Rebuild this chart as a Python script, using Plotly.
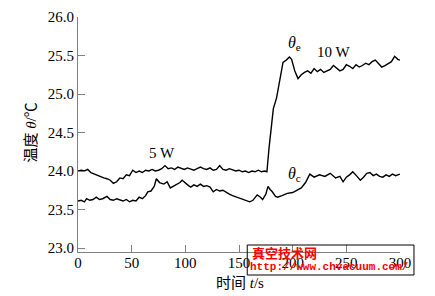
import plotly.graph_objects as go

# θe (upper curve): time (s) and temperature (°C)
te_t = [0, 3, 6, 9, 12, 15, 18, 21, 24, 27, 30, 33, 36, 39, 42, 45, 48, 51, 54, 57,
        60, 63, 66, 69, 72, 75, 78, 81, 84, 87, 90, 93, 96, 99, 102, 105, 108, 111, 114, 117,
        120, 123, 126, 129, 132, 135, 138, 141, 144, 147, 150, 153, 156, 159, 162, 165, 168, 171, 174, 176,
        178, 180, 182, 185, 188, 191, 194, 197, 199, 202, 205, 208, 211, 214, 217, 220, 223, 226, 229, 232,
        235, 238, 241, 244, 247, 250, 253, 256, 259, 262, 265, 268, 271, 274, 277, 280, 283, 286, 289, 292,
        295, 298, 300]
te_v = [24.00, 24.01, 24.00, 24.02, 23.98, 23.96, 23.94, 23.93, 23.91, 23.90, 23.88, 23.84, 23.86, 23.91, 23.90, 23.95, 23.94, 24.01, 23.98, 24.00,
        23.98, 24.01, 24.00, 24.02, 24.00, 24.01, 24.03, 24.07, 24.03, 24.04, 24.02, 24.05, 24.03, 24.02, 24.04, 24.02, 24.01, 24.03, 24.05, 24.03,
        24.02, 24.04, 24.01, 24.02, 24.07, 24.02, 24.01, 24.03, 24.01, 24.00, 24.01, 23.99, 24.00, 23.98, 24.00, 23.99, 24.01, 23.99, 24.00, 23.99,
        24.30, 24.60, 24.81, 24.95, 25.16, 25.41, 25.44, 25.48, 25.45, 25.30, 25.20, 25.25, 25.28, 25.30, 25.27, 25.33, 25.29, 25.32, 25.28, 25.30,
        25.32, 25.37, 25.34, 25.30, 25.32, 25.38, 25.36, 25.33, 25.38, 25.35, 25.37, 25.40, 25.38, 25.42, 25.44, 25.40, 25.35, 25.37, 25.39, 25.42,
        25.49, 25.45, 25.44]

# θc (lower curve)
tc_t = [0, 3, 6, 8, 11, 14, 17, 20, 23, 27, 30, 33, 36, 39, 42, 45, 48, 51, 54, 57,
        60, 63, 65, 68, 71, 73, 76, 80, 83, 86, 89, 92, 95, 97, 100, 103, 105, 108, 111, 114,
        117, 120, 123, 126, 129, 132, 135, 138, 141, 144, 148, 151, 154, 157, 160, 163, 167, 170, 172, 175,
        177, 179, 181, 184, 186, 190, 195, 200, 204, 208, 212, 216, 220, 225, 230, 235, 240, 244, 247, 250,
        253, 256, 260, 263, 266, 269, 272, 275, 278, 281, 284, 287, 290, 293, 296, 300]
tc_v = [23.61, 23.62, 23.60, 23.64, 23.62, 23.63, 23.66, 23.63, 23.64, 23.67, 23.63, 23.62, 23.64, 23.62, 23.61, 23.63, 23.60, 23.62, 23.61, 23.66,
        23.64, 23.68, 23.73, 23.74, 23.80, 23.90, 23.85, 23.83, 23.86, 23.78, 23.80, 23.83, 23.85, 23.88, 23.84, 23.81, 23.79, 23.82, 23.80, 23.83,
        23.80, 23.81, 23.79, 23.73, 23.76, 23.74, 23.75, 23.72, 23.70, 23.68, 23.66, 23.65, 23.63, 23.62, 23.60, 23.62, 23.69, 23.66, 23.63, 23.70,
        23.80, 23.76, 23.73, 23.67, 23.66, 23.68, 23.71, 23.72, 23.75, 23.78, 23.85, 23.96, 23.92, 23.95, 23.93, 23.97, 23.91, 23.93, 23.86, 23.92,
        23.95, 23.99, 23.93, 23.88, 23.92, 23.97, 23.98, 23.94, 23.96, 23.93, 23.92, 23.95, 23.93, 23.96, 23.94, 23.96]

x_ticks = [0, 50, 100, 150, 200, 250, 300]
y_ticks = [23.0, 23.5, 24.0, 24.5, 25.0, 25.5, 26.0]

SERIF = "Times New Roman, Liberation Serif, DejaVu Serif, serif"
CJK = "Times New Roman, Liberation Serif, Noto Sans CJK SC, serif"

# plot area in pixels
L, R, T, B = 77.5, 400.0, 17.0, 252.0
W, H = 435, 296
def px(xp):
    return (xp - L) / (R - L)
def py(yp):
    return (B - yp) / (B - T)

fig = go.Figure()
fig.add_trace(go.Scatter(x=te_t, y=te_v, mode="lines", line=dict(color="black", width=1.4), hoverinfo="skip"))
fig.add_trace(go.Scatter(x=tc_t, y=tc_v, mode="lines", line=dict(color="black", width=1.4), hoverinfo="skip"))

axis_common = dict(showgrid=False, zeroline=False, showline=True, linecolor="#808080", linewidth=1,
                   ticks="inside", tickcolor="#808080", ticklen=7, tickwidth=1, automargin=False,
                   tickfont=dict(family=SERIF, size=15, color="black"))
fig.update_xaxes(range=[0, 300], tickvals=x_ticks, ticktext=[str(v) for v in x_ticks],
                 ticklabelstandoff=-3, **axis_common)
fig.update_yaxes(range=[22.948, 26], tickvals=y_ticks, ticktext=[f"{v:.1f}" for v in y_ticks], **axis_common)

ann = []
ann.append(dict(x=px(162), y=py(153), xref="paper", yref="paper", text="5 W", showarrow=False,
                xanchor="center", yanchor="middle", font=dict(family=SERIF, size=15, color="black")))
ann.append(dict(x=px(333), y=py(52), xref="paper", yref="paper", text="10 W", showarrow=False,
                xanchor="center", yanchor="middle", font=dict(family=SERIF, size=15, color="black")))
ann.append(dict(x=px(294), y=py(43), xref="paper", yref="paper", text="<i>θ</i><sub>e</sub>", showarrow=False,
                xanchor="center", yanchor="middle", font=dict(family=SERIF, size=16, color="black")))
ann.append(dict(x=px(294), y=py(174), xref="paper", yref="paper", text="<i>θ</i><sub>c</sub>", showarrow=False,
                xanchor="center", yanchor="middle", font=dict(family=SERIF, size=16, color="black")))
# axis titles
ann.append(dict(x=px(30), y=py(133), xref="paper", yref="paper", xanchor="center", yanchor="middle",
                text="温度 <i>θ</i>/℃", textangle=-90, showarrow=False,
                font=dict(family=CJK, size=15, color="black")))
ann.append(dict(x=px(240), y=py(283), xref="paper", yref="paper", xanchor="center", yanchor="middle",
                text="时间 <i>t</i>/s", showarrow=False,
                font=dict(family=CJK, size=15, color="black")))
# watermark
ann.append(dict(x=px(250), y=py(253), xref="paper", yref="paper", xanchor="left", yanchor="middle",
                text="<b>真空技术网</b>", showarrow=False,
                font=dict(family="Noto Sans CJK SC", size=13, color="#ff0000")))
ann.append(dict(x=px(248), y=py(267), xref="paper", yref="paper", xanchor="left", yanchor="middle",
                text="<b>http://www.chvacuum.com/</b>", showarrow=False,
                font=dict(family="Liberation Mono, DejaVu Sans Mono, monospace", size=11, color="#ff0000")))

shapes = [dict(type="rect", xref="paper", yref="paper",
               x0=px(247), x1=px(414), y0=py(275), y1=py(245),
               line=dict(color="black", width=1), fillcolor="rgba(0,0,0,0)")]

fig.update_layout(width=W, height=H, margin=dict(l=L, r=W - R, t=T, b=H - B, pad=0, autoexpand=False),
                  paper_bgcolor="white", plot_bgcolor="white", showlegend=False,
                  font=dict(family=SERIF),
                  annotations=ann, shapes=shapes)
fig.write_html("out.html")
